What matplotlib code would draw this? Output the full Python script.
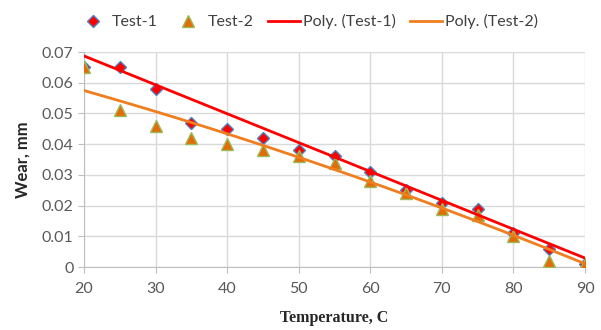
import numpy as np
import matplotlib
matplotlib.use("Agg")
import matplotlib.pyplot as plt
from matplotlib.ticker import MultipleLocator

temp = [20, 25, 30, 35, 40, 45, 50, 55, 60, 65, 70, 75, 80, 85, 90]
test1 = [0.065, 0.065, 0.058, 0.047, 0.045, 0.042, 0.038, 0.036, 0.031, 0.025, 0.021, 0.019, 0.011, 0.006, 0.001]
test2 = [0.065, 0.051, 0.046, 0.042, 0.040, 0.038, 0.036, 0.034, 0.028, 0.024, 0.019, 0.017, 0.010, 0.002, 0.001]

# trendline values
trend_x = [20, 30, 40, 60, 80, 90]
trend1 = [0.0685, 0.0595, 0.0500, 0.0313, 0.0115, 0.0034]
trend2 = [0.0577, 0.0504, 0.0430, 0.0283, 0.0099, 0.0012]

plt.rcParams['font.family'] = ['Lato', 'DejaVu Sans']

fig = plt.figure(figsize=(6.01, 3.30), dpi=100)
ax = fig.add_axes([0.1398, 0.1909, 0.8336, 0.6515])

xs = np.linspace(20, 90, 200)
p1 = np.polyfit(trend_x, trend1, 2)
p2 = np.polyfit(trend_x, trend2, 2)

ax.plot(temp, test1, linestyle='none', marker='D', markersize=6.5, color='#FF0000',
        markeredgecolor='#4F81BD', markeredgewidth=1.0, label='Test-1', zorder=3)
ax.plot(temp, test2, linestyle='none', marker='^', markersize=8, color='#E36C09',
        markeredgecolor='#9BBB59', markeredgewidth=1.0, label='Test-2', zorder=4)
ax.plot(xs, np.polyval(p1, xs), color='#FF0000', lw=2, label='Poly. (Test-1)', zorder=5)
ax.plot(xs, np.polyval(p2, xs), color='#F07D1E', lw=2, label='Poly. (Test-2)', zorder=5)

ax.set_xlim(20, 90)
ax.set_ylim(0, 0.07)
ax.xaxis.set_major_locator(MultipleLocator(10))
ax.yaxis.set_major_locator(MultipleLocator(0.01))
ax.yaxis.set_major_formatter(plt.FuncFormatter(lambda v, p: '0' if abs(v) < 1e-9 else '%g' % round(v, 2)))

ax.grid(True, color='#D9D9D9', lw=1)
ax.set_axisbelow(True)
for s in ['top', 'right']:
    ax.spines[s].set_visible(False)
for s in ['left', 'bottom']:
    ax.spines[s].set_color('#BFBFBF')
ax.tick_params(axis='both', colors='#BFBFBF', labelcolor='#595959', labelsize=11.5, length=4)
ax.tick_params(axis='x', pad=7)

ax.set_xlabel('Temperature, C', family='Liberation Serif', fontweight='bold', fontsize=11.5, color='#262626', labelpad=10)
ax.set_ylabel('Wear, mm', fontweight='bold', fontsize=12, color='#262626', labelpad=8)

fig.legend(loc='upper center', bbox_to_anchor=(0.512, 1.0), ncol=4, frameon=False,
           fontsize=11.5, handlelength=2.0, handletextpad=0.2, columnspacing=0.9,
           labelcolor='#404040')

fig.savefig('out.png', dpi=100)
